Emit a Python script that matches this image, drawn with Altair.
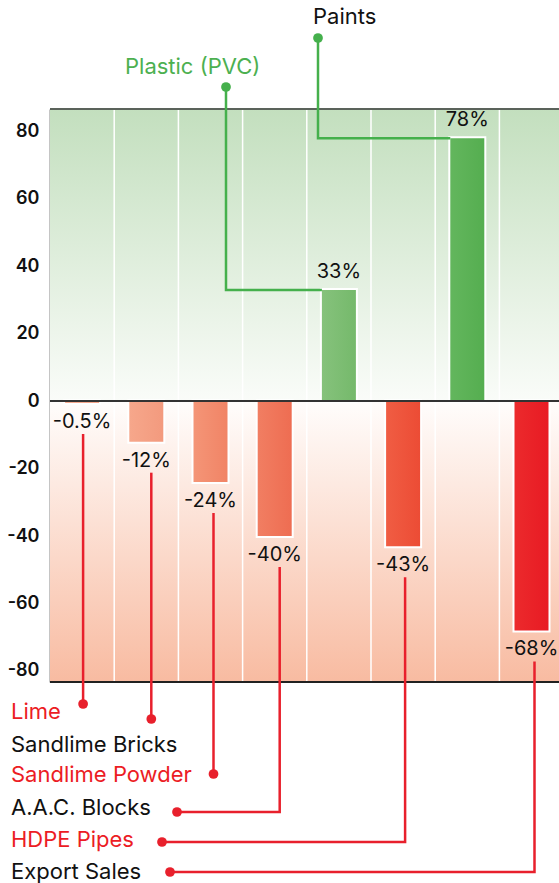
import altair as alt
import pandas as pd

# ---------------- data ----------------
categories = ["Lime", "Sandlime Bricks", "Sandlime Powder", "A.A.C. Blocks",
              "Plastic (PVC)", "HDPE Pipes", "Paints", "Export Sales"]
values = [-0.5, -12, -24, -40, 33, -43, 78, -68]
value_labels = ["-0.5%", "-12%", "-24%", "-40%", "33%", "-43%", "78%", "-68%"]
bar_colors_left = ["#f7ad92", "#f6a78b", "#f49577", "#f17e62", "#86c27c",
                   "#f05d43", "#63b65d", "#ec2a2c"]
bar_colors_right = ["#f5a388", "#f39a7e", "#f18466", "#ee6d52", "#75b96b",
                    "#ec4c35", "#55ae50", "#e81b24"]
y_ticks = [-80, -60, -40, -20, 0, 20, 40, 60, 80]

# bottom call-outs (negative bars) and top call-outs (positive bars)
bottom_names = ["Lime", "Sandlime Bricks", "Sandlime Powder", "A.A.C. Blocks",
                "HDPE Pipes", "Export Sales"]
bottom_text_colors = ["#ec1c24", "#111111", "#ec1c24", "#111111", "#ec1c24", "#111111"]
top_names = ["Plastic (PVC)", "Paints"]
top_text_colors = ["#4cb050", "#111111"]

# ---------------- layout (pixels, styling only) ----------------
W, H = 509, 573
TOP, LEFT = 109, 50
COLW = 64.2
YMAX, YMIN = 86.7, -83.3
XMAX = W / COLW
KY = H / (YMAX - YMIN)
BAR_HALF = 17 / COLW

def yd(py):
    return YMAX - (py - TOP) / KY

def xd(px):
    return (px - LEFT) / COLW

RED = "#e8202c"
GREEN = "#45b04c"
FONT = "Inter"

bot_line_dx = [1, 5, 3, 5, 2, 3]
bot_dot = [(None, 704), (None, 719), (None, 774), (177, 812), (162, 842), (170, 872)]
bot_text_y = [712, 745, 775, 808, 840, 871.5]
BOT_TEXT_X = 11
LINE_GAP = 31
LABEL_GAP = 19

top_dot = [(226, 87), (318, 38)]
top_text = [(125, 67), (313, 17)]

# ---------------- frames ----------------
bars = pd.DataFrame({
    "name": categories,
    "value": values,
    "label": value_labels,
    "i": list(range(len(categories))),
})
bars["xc"] = bars["i"] + 0.5
bars["x0"] = bars["xc"] - BAR_HALF
bars["x1"] = bars["xc"] + BAR_HALF
bars["zero"] = 0.0

grid = pd.DataFrame({"x": list(range(1, len(categories)))})

bg = pd.DataFrame({
    "part": ["pos", "neg"],
    "y0": [YMAX, 0.0], "y1": [0.0, YMIN],
    "x0": [0.0, 0.0], "x1": [XMAX, XMAX],
})

rows, dots, btexts = [], [], []
for k, nm in enumerate(bottom_names):
    b = bars[bars["name"] == nm].iloc[0]
    cx_px = LEFT + COLW * b["xc"] + bot_line_dx[k]
    end_py = TOP + (YMAX - b["value"]) * KY
    start_py = end_py + LINE_GAP
    dx, dy = bot_dot[k]
    rows.append({"name": nm, "o": 0, "x": xd(cx_px), "y": yd(start_py), "c": "red"})
    rows.append({"name": nm, "o": 1, "x": xd(cx_px), "y": yd(dy), "c": "red"})
    if dx is not None:
        rows.append({"name": nm, "o": 2, "x": xd(dx), "y": yd(dy), "c": "red"})
        dots.append({"name": nm, "x": xd(dx), "y": yd(dy), "c": "red"})
    else:
        dots.append({"name": nm, "x": xd(cx_px), "y": yd(dy), "c": "red"})
    btexts.append({"name": nm, "x": xd(BOT_TEXT_X), "y": yd(bot_text_y[k]),
                   "col": bottom_text_colors[k]})

for k, nm in enumerate(top_names):
    b = bars[bars["name"] == nm].iloc[0]
    dx, dy = top_dot[k]
    rows.append({"name": nm, "o": 0, "x": xd(dx), "y": yd(dy), "c": "green"})
    rows.append({"name": nm, "o": 1, "x": xd(dx), "y": b["value"], "c": "green"})
    rows.append({"name": nm, "o": 2, "x": b["x0"], "y": b["value"], "c": "green"})
    dots.append({"name": nm, "x": xd(dx), "y": yd(dy), "c": "green"})
    tx, ty = top_text[k]
    btexts.append({"name": nm, "x": xd(tx), "y": yd(ty), "col": top_text_colors[k]})

lines = pd.DataFrame(rows)
dots = pd.DataFrame(dots)
texts = pd.DataFrame(btexts)

# ---------------- encodings ----------------
xs = alt.Scale(domain=[0, XMAX], nice=False, zero=False)
ys = alt.Scale(domain=[YMIN, YMAX], nice=False, zero=False)
yaxis = alt.Axis(values=y_ticks, labelFontSize=18, labelFontWeight=600, labelFont=FONT,
                 labelColor="#111111", ticks=False, labelPadding=11, grid=False,
                 domainColor="#1a1a1a", domainWidth=1.5, title=None,
                 labelExpr="'' + datum.value")

def X(f):
    return alt.X(f, type="quantitative", scale=xs, axis=None)

def Y(f):
    return alt.Y(f, type="quantitative", scale=ys, axis=yaxis)

bg_pos = alt.Chart(bg).transform_filter("datum.part == 'pos'").mark_rect(
    color=alt.LinearGradient(gradient="linear", x1=0, x2=0, y1=0, y2=1,
                             stops=[alt.GradientStop(color="#c3dfbe", offset=0),
                                    alt.GradientStop(color="#fafcf9", offset=1)])
).encode(x=X("x0"), x2="x1", y=Y("y0"), y2="y1")

bg_neg = alt.Chart(bg).transform_filter("datum.part == 'neg'").mark_rect(
    color=alt.LinearGradient(gradient="linear", x1=0, x2=0, y1=0, y2=1,
                             stops=[alt.GradientStop(color="#fffdfc", offset=0),
                                    alt.GradientStop(color="#f8bba1", offset=1)])
).encode(x=X("x0"), x2="x1", y=Y("y0"), y2="y1")

grid_rules = alt.Chart(grid).mark_rule(color="white", strokeWidth=1.5).encode(
    x=X("x"), y=alt.value(0), y2=alt.value(H))

top_border = alt.Chart(grid).mark_rule(color="#5a625a", strokeWidth=1.2).encode(
    x=alt.value(0), x2=alt.value(W), y=alt.value(0))
bottom_border = alt.Chart(grid).mark_rule(color="#222222", strokeWidth=1.5).encode(
    x=alt.value(0), x2=alt.value(W), y=alt.value(H))
zero_line = alt.Chart(grid).mark_rule(color="#333333", strokeWidth=1.5).encode(
    x=alt.value(0), x2=alt.value(W), y=alt.datum(0, scale=ys))

# white halo under bars, then gradient-filled bars (one layer per bar)
bar_halo = alt.Chart(bars).mark_rect(fill=None, stroke="white", strokeWidth=4).encode(
    x=X("x0"), x2="x1", y=Y("value"), y2="zero")

bar_layers = []
for i, nm in enumerate(categories):
    bar_layers.append(
        alt.Chart(bars).transform_filter(alt.datum.name == nm).mark_rect(
            color=alt.LinearGradient(
                gradient="linear", x1=0, x2=1, y1=0, y2=0,
                stops=[alt.GradientStop(color=bar_colors_left[i], offset=0),
                       alt.GradientStop(color=bar_colors_right[i], offset=1)])
        ).encode(x=X("x0"), x2="x1", y=Y("value"), y2="zero")
    )

lab_neg = alt.Chart(bars).transform_filter("datum.value < 0").mark_text(
    font=FONT, fontSize=20, color="#111111", baseline="middle", dy=LABEL_GAP
).encode(x=X("xc"), y=Y("value"), text="label:N")
lab_pos = alt.Chart(bars).transform_filter("datum.value > 0").mark_text(
    font=FONT, fontSize=20, color="#111111", baseline="middle", dy=-18
).encode(x=X("xc"), y=Y("value"), text="label:N")

cscale = alt.Scale(domain=["red", "green"], range=[RED, GREEN])
line_layer = alt.Chart(lines).mark_line(strokeWidth=2.5, strokeCap="butt",
                                         strokeJoin="miter").encode(
    x=X("x"), y=Y("y"), detail="name:N", order="o:Q",
    color=alt.Color("c:N", scale=cscale, legend=None))
dot_layer = alt.Chart(dots).mark_circle(size=95, opacity=1).encode(
    x=X("x"), y=Y("y"), color=alt.Color("c:N", scale=cscale, legend=None))
text_layer = alt.Chart(texts).mark_text(font=FONT, fontSize=22, align="left",
                                         baseline="middle").encode(
    x=X("x"), y=Y("y"), text="name:N", color=alt.Color("col:N", scale=None))

chart = alt.layer(
    bg_pos, bg_neg, grid_rules, bar_halo, *bar_layers, zero_line,
    top_border, bottom_border, lab_neg, lab_pos, line_layer, dot_layer, text_layer
).properties(
    width=W, height=H,
    autosize=alt.AutoSizeParams(type="none"),
    padding={"left": LEFT, "top": TOP, "right": 0, "bottom": 883 - TOP - H},
).configure_view(stroke=None).configure(background="white")

chart.save("out.html", embed_options={"renderer": "svg", "actions": False})
